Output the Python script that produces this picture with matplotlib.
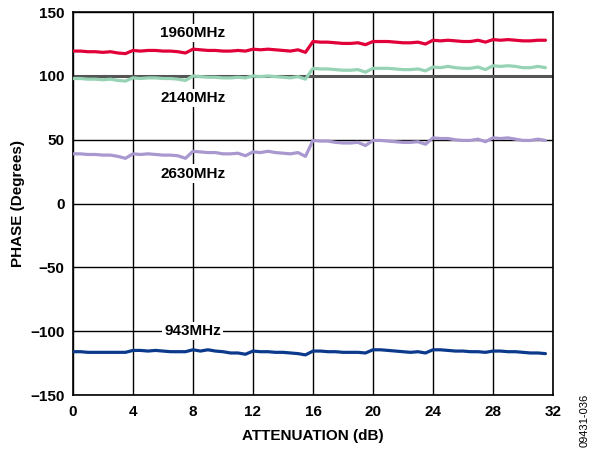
import matplotlib
matplotlib.use("Agg")
import matplotlib.pyplot as plt
import numpy as np

plt.rcParams['font.family'] = ['Liberation Sans', 'DejaVu Sans']

attenuation = np.arange(0, 32, 0.5)

phase_1960 = [119.5, 119.5, 119, 119, 118.5, 119, 118, 117.5,
              120, 119.5, 120, 120, 119.5, 119.5, 119, 118,
              121, 120.5, 120, 120, 119.5, 119.5, 120, 119.5,
              121, 120.5, 121, 120.5, 120, 119.5, 120.5, 118.5,
              127, 126.5, 126.5, 126, 125.5, 125.5, 126, 124.5,
              127, 127, 127, 126.5, 126, 126, 126.5, 125,
              128, 127.5, 128, 127.5, 127, 127, 128, 126.5,
              128.5, 128, 128.5, 128, 127.5, 127.5, 128, 128]

phase_2140 = [98, 98, 97.5, 97.5, 97, 97.5, 96.5, 96,
              98.5, 98, 98.5, 98.5, 98, 98, 97.5, 96.5,
              100, 99.5, 99, 99, 98.5, 98.5, 99, 98.5,
              100, 99.5, 100, 99.5, 99, 98.5, 99.5, 97.5,
              106, 105.5, 105.5, 105, 104.5, 104.5, 105, 103,
              106, 106, 106, 105.5, 105, 105, 105.5, 104,
              107, 106.5, 107.5, 106.5, 106, 106, 107, 105,
              108, 107.5, 108, 107.5, 106.5, 106.5, 107.5, 106.5]

phase_2630 = [39, 39, 38.5, 38.5, 38, 38, 37, 35.5,
              39, 38.5, 39, 38.5, 38, 38, 37.5, 35.5,
              41, 40.5, 40, 40, 39, 39, 39.5, 37.5,
              40.5, 40, 41, 40, 39.5, 39, 40, 37,
              49.5, 49, 49, 48, 47.5, 47.5, 48, 45.5,
              49.5, 49.5, 49, 48.5, 48, 48, 48.5, 46.5,
              51.5, 51, 51, 50, 49.5, 49.5, 50.5, 48.5,
              51.5, 51, 51.5, 50.5, 49.5, 49.5, 50.5, 49.5]

phase_943 = [-116, -116, -116.5, -116.5, -116.5, -116.5, -116.5, -116.5,
             -115, -115, -115.5, -115, -115.5, -116, -116, -116,
             -114.5, -115.5, -114.5, -115.5, -116, -117, -117, -118,
             -115.5, -116, -116, -116.5, -116.5, -117, -117.5, -118.5,
             -115.5, -115.5, -116, -116, -116.5, -116.5, -116.5, -117,
             -114.5, -114.5, -115, -115.5, -116, -116.5, -116, -117,
             -114.5, -114.5, -115, -115.5, -115.5, -116, -116, -116.5,
             -115.5, -115.5, -116, -116, -116.5, -117, -117, -117.5]

series_labels = ["1960MHz", "2140MHz", "2630MHz", "943MHz"]
series_colors = ["#E2003A", "#96D3B5", "#A898CF", "#0B3A8C"]
label_pos = [(8, 133.5), (8, 82.5), (8, 23.5), (8, -100)]

x_ticks = [0, 4, 8, 12, 16, 20, 24, 28, 32]
y_ticks = [-150, -100, -50, 0, 50, 100, 150]

fig = plt.figure(figsize=(6.03, 4.5), dpi=100)
ax = fig.add_axes([0.121, 0.122, 0.796, 0.851])

ax.set_xlim(0, 32)
ax.set_ylim(-150, 150)
ax.set_xticks(x_ticks)
ax.set_yticks(y_ticks)
ax.grid(True, color='black', linewidth=1.0, zorder=0)
ax.set_axisbelow(True)
ax.axhline(100, color='#555555', linewidth=2.2, zorder=1)

for data, col in zip([phase_1960, phase_2140, phase_2630, phase_943], series_colors):
    ax.plot(attenuation, data, color=col, linewidth=2.3, zorder=3,
            solid_joinstyle='round', solid_capstyle='round')

for lab, (lx, ly) in zip(series_labels, label_pos):
    ax.text(lx, ly, lab, ha='center', va='center', fontsize=11, fontweight='bold',
            zorder=4, bbox=dict(facecolor='white', edgecolor='none', pad=1.5))

ax.tick_params(axis='both', length=0, labelsize=11)
ax.tick_params(axis='y', pad=6)
ax.tick_params(axis='x', pad=7)
for lbl in ax.get_xticklabels() + ax.get_yticklabels():
    lbl.set_fontweight('bold')

for s in ax.spines.values():
    s.set_linewidth(1.2)
    s.set_color('black')

ax.set_xlabel("ATTENUATION (dB)", fontsize=11, fontweight='bold', labelpad=7)
ax.set_ylabel("PHASE (Degrees)", fontsize=11, fontweight='bold', labelpad=4)

fig.text(0.970, 0.065, "09431-036", rotation=90, fontsize=8, ha='center', va='center')

fig.savefig("out.png", dpi=100)
